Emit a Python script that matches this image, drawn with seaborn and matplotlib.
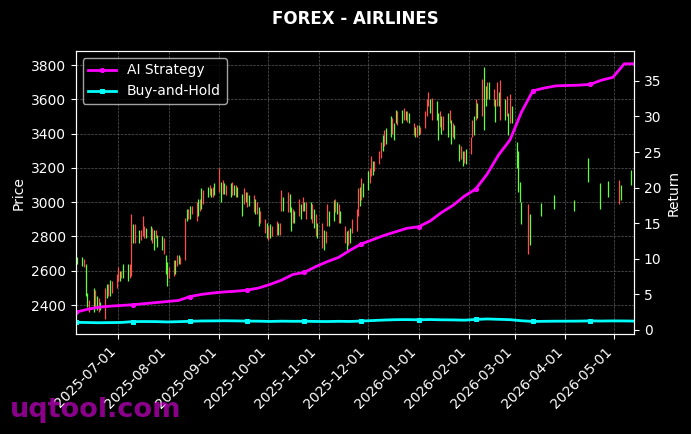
import numpy as np
import pandas as pd
import matplotlib
matplotlib.use('Agg')
import matplotlib.pyplot as plt
import matplotlib.dates as mdates
import seaborn as sns

# daily candles on weekdays 2025-06-05 .. 2026-05-13, None = no candle drawn
opens = [
    None, 2640,                          # Jun 5
    2625, 2670, 2450, 2390, 2430,        # Jun 9
    2360, 2490, 2370, 2440, 2370,        # Jun 16
    2500, 2440, 2520, 2450, 2540,        # Jun 23
    2580, 2620, 2540, 2600, 2560,        # Jun 30
    2540, 2640, 2930, 2760, 2870,        # Jul 7
    2760, 2840, 2920, 2860, 2790,        # Jul 14
    2780, 2850, 2720, 2840, 2740,        # Jul 21
    2720, 2790, 2580, 2510, 2620,        # Jul 28
    2660, 2580, 2690, 2640, 2680,        # Aug 4
    2910, 2890, 2960, 2900, 2975,        # Aug 11
    3000, 2920, 3020, 2960, 3070,        # Aug 18
    3030, 3100, 3030, 3090, 3040,        # Aug 25
    3200, 3000, 3130, 3050, 3100,        # Sep 1
    3030, 3120, 3040, 3100, 3030,        # Sep 8
    2920, 3080, 3000, 3060, 2980,        # Sep 15
    3040, 2930, 3000, 2860, 2950,        # Sep 22
    2900, 2790, 2860, 2790, 2860,        # Sep 29
    2890, 2810, 2880, 3070, 2950,        # Oct 6
    3060, 2940, 2830, 2960, 2880,        # Oct 13
    3020, 2900, 3030, 2950, 3000,        # Oct 20
    2900, 2990, 2850, 2930, 2790,        # Oct 27
    2880, 2720, 2830, 2990, 2860,        # Nov 3
    2890, 3020, 2930, 2990, 2880,        # Nov 10
    2860, 2720, 2840, 2760, 2900,        # Nov 17
    2960, 3080, 2980, 3140, 3030,        # Nov 24
    3070, 3200, 3270, 3160, 3240,        # Dec 1
    3300, 3350, 3300, 3420, 3340,        # Dec 8
    3380, 3490, 3360, 3460, 3530,        # Dec 15
    3460, 3550, 3480, 3530, 3460,        # Dec 22
    3460, 3380, 3450, 3390, 3440,        # Dec 29
    3530, 3600, 3640, 3520, 3610,        # Jan 5
    3480, 3360, 3530, 3400, 3500,        # Jan 12
    3380, 3540, 3340, 3460, 3370,        # Jan 19
    3240, 3330, 3210, 3300, 3220,        # Jan 26
    3380, 3480, 3390, 3600, 3490,        # Feb 2
    3720, 3420, 3560, 3700, 3600,        # Feb 9
    3660, 3470, 3700, 3560, 3710,        # Feb 16
    3480, 3620, 3390, 3630, 3460,        # Feb 23
    3200, 3060, 3000, 2870, None,        # Mar 2
    2990, 2750, None, None, None,        # Mar 9
    None, 2920, None, None, None,        # Mar 16
    None, None, 2960, None, None,        # Mar 23
    None, None, None, None, None,        # Mar 30
    2950, None, None, None, None,        # Apr 6
    None, None, 3120, None, None,        # Apr 13
    None, None, 2960, None, None,        # Apr 20
    3030, None, None, None, None,        # Apr 27
    3130, 3010, None, None, None,        # May 4
    3100, None, None,                    # May 11
]
closes = [
    None, 2680,
    2680, 2620, 2640, 2470, 2360,
    2500, 2380, 2450, 2360, 2420,
    2320, 2520, 2450, 2545, 2470,
    2500, 2540, 2600, 2560, 2640,
    2640, 2560, 2570, 2870, 2760,
    2840, 2780, 2800, 2790, 2850,
    2860, 2760, 2840, 2790, 2810,
    2800, 2700, 2690, 2650, 2560,
    2570, 2660, 2630, 2690, 2640,
    2660, 2960, 2900, 2975, 2930,
    2890, 3020, 2950, 3080, 2990,
    3090, 3040, 3080, 3030, 3110,
    3060, 3120, 3050, 3110, 3040,
    3110, 3040, 3100, 3030, 3090,
    3050, 2990, 3060, 2970, 3040,
    2940, 3020, 2930, 2970, 2880,
    2820, 2880, 2780, 2870, 2800,
    2810, 2880, 2810, 2950, 3030,
    2940, 3050, 2970, 2880, 2950,
    2920, 2990, 2950, 3000, 2900,
    3000, 2880, 2960, 2800, 2880,
    2730, 2840, 2760, 2860, 2950,
    3010, 2940, 3000, 2880, 2950,
    2760, 2830, 2750, 2850, 2820,
    2830, 2920, 3090, 3010, 3110,
    3180, 3110, 3150, 3240, 3180,
    3220, 3260, 3390, 3330, 3430,
    3500, 3400, 3460, 3540, 3450,
    3540, 3480, 3530, 3470, 3520,
    3390, 3440, 3380, 3450, 3400,
    3430, 3500, 3560, 3600, 3480,
    3590, 3520, 3440, 3500, 3420,
    3520, 3460, 3480, 3380, 3450,
    3340, 3250, 3300, 3230, 3310,
    3280, 3380, 3500, 3480, 3580,
    3500, 3790, 3680, 3600, 3700,
    3560, 3600, 3560, 3640, 3480,
    3600, 3500, 3520, 3460, 3560,
    3350, 3300, 3120, 3000, None,
    2700, 2930, None, None, None,
    None, 2995, None, None, None,
    None, None, 3040, None, None,
    None, None, None, None, None,
    3010, None, None, None, None,
    None, None, 3260, None, None,
    None, None, 3110, None, None,
    3125, None, None, None, None,
    2990, 3100, None, None, None,
    3190, None, None,
]

# weekly samples of the return curves, starting 2025-06-05
ai_strategy = [
    2.5, 2.9, 3.2, 3.35, 3.45, 3.55, 3.7, 3.85, 4.0, 4.15,
    4.7, 5.0, 5.2, 5.35, 5.45, 5.6, 5.9, 6.4, 7.0, 7.8,
    8.1, 8.9, 9.6, 10.2, 11.2, 12.1, 12.7, 13.3, 13.8, 14.3,
    14.5, 15.3, 16.5, 17.5, 18.8, 19.8, 21.9, 24.6, 26.7, 30.6,
    33.6, 34.0, 34.3, 34.35, 34.4, 34.5, 35.1, 35.5, 37.4, 37.4,
]
buy_hold = [
    1.08, 1.05, 1.02, 1.04, 1.06, 1.18, 1.19, 1.18, 1.13, 1.17,
    1.22, 1.27, 1.28, 1.30, 1.28, 1.25, 1.24, 1.20, 1.24, 1.22,
    1.23, 1.20, 1.19, 1.22, 1.20, 1.26, 1.33, 1.40, 1.45, 1.46,
    1.43, 1.47, 1.43, 1.42, 1.38, 1.48, 1.55, 1.50, 1.45, 1.30,
    1.20, 1.22, 1.24, 1.24, 1.25, 1.28, 1.26, 1.28, 1.27, 1.25,
]

plt.style.use('dark_background')
plt.rcParams['font.family'] = ['DejaVu Sans']

candles = pd.DataFrame({
    'date': pd.bdate_range('2025-06-05', '2026-05-13'),
    'open': opens,
    'close': closes,
}).dropna()
returns = pd.DataFrame({
    'date': pd.date_range('2025-06-05', periods=len(ai_strategy), freq='7D'),
    'AI Strategy': ai_strategy,
    'Buy-and-Hold': buy_hold,
})

fig = plt.figure(figsize=(6.91, 4.34), dpi=100)
ax = fig.add_axes([0.1096, 0.2293, 0.808, 0.6532])

# candles drawn as thin bars between open and close
up = candles['close'] >= candles['open']
ax.vlines(candles['date'],
          candles[['open', 'close']].min(axis=1),
          candles[['open', 'close']].max(axis=1),
          colors=np.where(up, '#5CFF3A', '#FF4D4D'), linewidth=0.9)
ax.set_ylim(2228, 3882)
ax.set_ylabel('Price', fontsize=10)
ax.grid(True, color='#5a5a5a', linestyle='--', linewidth=0.5)

ax2 = ax.twinx()
sns.lineplot(data=returns, x='date', y='AI Strategy', ax=ax2, color='#FF00FF',
             linewidth=2, marker='o', markersize=3, markevery=5,
             markeredgecolor='#FF00FF', label='AI Strategy')
sns.lineplot(data=returns, x='date', y='Buy-and-Hold', ax=ax2, color='#00FFFF',
             linewidth=2, marker='s', markersize=3, markevery=5,
             markeredgecolor='#00FFFF', label='Buy-and-Hold')
ax2.set_ylim(-0.63, 39.2)
ax2.set_ylabel('Return', fontsize=10)
ax2.grid(False)
ax2.legend(loc='upper left', fontsize=10)

ax.set_xlim(pd.Timestamp('2025-06-05'), pd.Timestamp('2026-05-13'))
ax.xaxis.set_major_locator(mdates.MonthLocator())
ax.xaxis.set_major_formatter(mdates.DateFormatter('%Y-%m-%d'))
ax.set_xlabel('')
ax2.set_xlabel('')
plt.setp(ax.get_xticklabels(), rotation=45, ha='right')

ax.set_title('FOREX - AIRLINES', fontsize=12, fontweight='bold', color='white', pad=19.5)

fig.text(0.0145, 0.04, 'uqtool.com', fontsize=19.5, fontweight='bold',
         color='#FF00FF', alpha=0.55, va='baseline', zorder=10)

fig.savefig('out.png', dpi=100, facecolor='black')
